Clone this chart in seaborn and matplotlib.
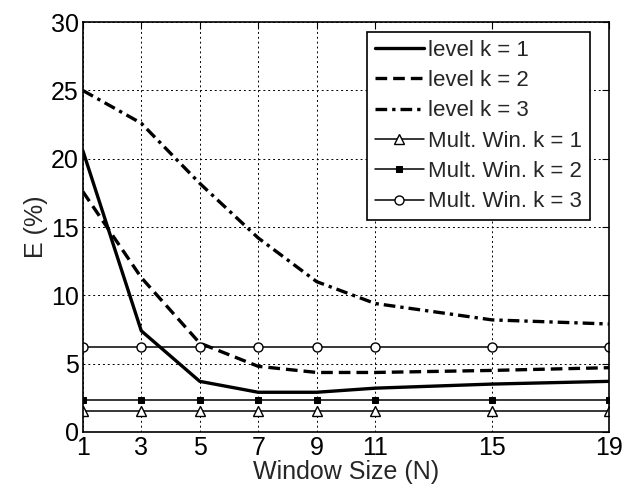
import matplotlib
matplotlib.use("Agg")
import matplotlib.pyplot as plt
import seaborn as sns
import pandas as pd

window = [1, 3, 5, 7, 9, 11, 15, 19]
level_k1 = [20.6, 7.4, 3.7, 2.9, 2.9, 3.2, 3.5, 3.7]
level_k2 = [17.6, 11.3, 6.5, 4.8, 4.35, 4.35, 4.5, 4.7]
level_k3 = [25.0, 22.6, 18.2, 14.2, 11.0, 9.4, 8.2, 7.9]
mult_k1 = [1.5] * 8
mult_k2 = [2.3] * 8
mult_k3 = [6.2] * 8
x_ticks = [1, 3, 5, 7, 9, 11, 15, 19]
y_ticks = [0, 5, 10, 15, 20, 25, 30]

sns.set_style("white")
plt.rcParams['font.family'] = ['Liberation Sans', 'DejaVu Sans']

fig = plt.figure(figsize=(6.37, 4.93), dpi=100)
ax = fig.add_axes([0.130, 0.124, 0.826, 0.831])

series = [
    ("level k = 1", level_k1, dict(linestyle='-', linewidth=2.4)),
    ("level k = 2", level_k2, dict(linestyle=(0, (3.5, 1.8)), linewidth=2.4)),
    ("level k = 3", level_k3, dict(linestyle=(0, (3.5, 1.5, 1, 1.5)), linewidth=2.4)),
    ("Mult. Win. k = 1", mult_k1, dict(linestyle='-', linewidth=1.1, marker='^', markersize=6.5,
                                       markerfacecolor='white', markeredgecolor='black', markeredgewidth=1)),
    ("Mult. Win. k = 2", mult_k2, dict(linestyle='-', linewidth=1.1, marker='s', markersize=4.5,
                                       markerfacecolor='black', markeredgecolor='black')),
    ("Mult. Win. k = 3", mult_k3, dict(linestyle='-', linewidth=1.1, marker='o', markersize=6.5,
                                       markerfacecolor='white', markeredgecolor='black', markeredgewidth=1)),
]

for name, vals, style in series:
    df = pd.DataFrame({"N": window, "E": vals})
    sns.lineplot(data=df, x="N", y="E", ax=ax, color='black', label=name, **style)

ax.set_xlim(1, 19)
ax.set_ylim(0, 30)
ax.set_xticks(x_ticks)
ax.set_yticks(y_ticks)
ax.grid(True, color='black', linestyle=(0, (2, 3)), linewidth=0.7)
for s in ax.spines.values():
    s.set_color('black')
    s.set_linewidth(1.2)
ax.tick_params(direction='in', length=5, top=True, right=True, labelsize=18, colors='black', pad=3)
ax.set_xlabel("Window Size (N)", fontsize=18, labelpad=0)
ax.set_ylabel("E (%)", fontsize=18, labelpad=2)

leg = ax.legend(loc='upper right', fontsize=16, frameon=True, fancybox=False,
                edgecolor='black', framealpha=1, handlelength=2.2, handletextpad=0.2,
                borderpad=0.35, borderaxespad=0, labelspacing=0.42, bbox_to_anchor=(0.964, 0.976))
leg.get_frame().set_linewidth(1.2)

fig.savefig("out.png", dpi=100)
